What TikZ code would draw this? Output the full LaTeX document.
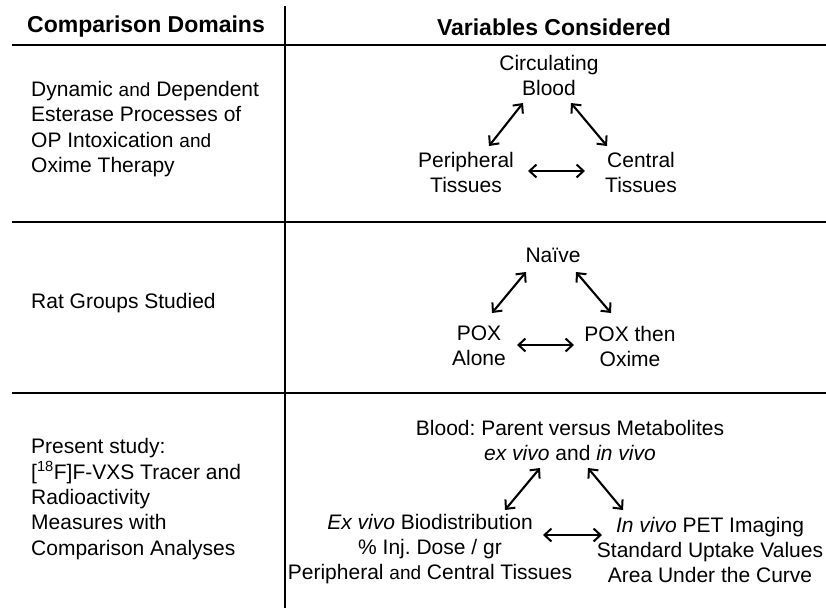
\documentclass[tikz,border=0pt]{standalone}
\usepackage{fontspec}
\setmainfont{Liberation Sans}
\usetikzlibrary{arrows.meta}
\newcommand{\smand}{{\fontsize{19}{25}\selectfont and}}
\begin{document}
\frenchspacing
\begin{tikzpicture}[x=1pt,y=-1pt,
  body/.style={font=\fontsize{21}{25}\selectfont\frenchspacing, inner sep=0pt, align=center},
  lefttext/.style={font=\fontsize{21}{25.3}\selectfont\frenchspacing, inner sep=0pt, align=left, anchor=west},
  header/.style={font=\fontsize{23}{27}\selectfont\bfseries, inner sep=0pt},
  rule/.style={line width=2.6pt, black},
  vrule/.style={line width=2pt, black},
  arr/.style={{Straight Barb[length=7pt,width=13pt,line width=2pt]}-{Straight Barb[length=7pt,width=13pt,line width=2pt]}, line width=2.1pt}
]
\useasboundingbox (0,0) rectangle (826,608);
\fill[white] (0,0) rectangle (826,608);

% table rules
\coordinate (vtop) at (285,6);
\coordinate (vbot) at (285,608);
\coordinate (h1l) at (12,45);  \coordinate (h1r) at (826,45);
\coordinate (h2l) at (12,222); \coordinate (h2r) at (826,222);
\coordinate (h3l) at (12,393); \coordinate (h3r) at (826,393);
\draw[vrule] (vtop) -- (vbot);
\draw[rule] (h1l) -- (h1r);
\draw[rule] (h2l) -- (h2r);
\draw[rule] (h3l) -- (h3r);

% headers
\node[header] (hleft) at (146,27) {Comparison Domains};
\node[header] (hright) at (554,27) {Variables Considered};

% left column
\node[lefttext] (d1) at (31,129) {Dynamic \smand{} Dependent\\Esterase Processes of\\OP Intoxication \smand\\Oxime Therapy};
\node[lefttext] (d2) at (31,303) {Rat Groups Studied};
\node[lefttext] (d3) at (31,499) {Present study:\\{[}\textsuperscript{18}F{]}F-VXS Tracer and\\Radioactivity\\Measures with\\Comparison Analyses};

% section 1
\node[body] (blood) at (549,75.5) {Circulating\\Blood};
\node[body] (periph) at (466,172.5) {Peripheral\\Tissues};
\node[body] (central) at (641,172.5) {Central\\Tissues};
\draw[arr] ([shift={(-26,27.5)}]blood.center) -- ([shift={(23,-26.5)}]periph.center);
\draw[arr] ([shift={(22,27.5)}]blood.center) -- ([shift={(-34,-26.5)}]central.center);
\draw[arr] ([shift={(62,-1.5)}]periph.center) -- ([shift={(-56,-1.5)}]central.center);

% section 2
\node[body] (naive) at (553,255) {Naïve};
\node[body] (pox) at (479,346) {POX\\Alone};
\node[body] (poxo) at (630,346) {POX then\\Oxime};
\draw[arr] ([shift={(-27,17)}]naive.center) -- ([shift={(13,-33)}]pox.center);
\draw[arr] ([shift={(23,17)}]naive.center) -- ([shift={(-19,-33)}]poxo.center);
\draw[arr] ([shift={(38,-1)}]pox.center) -- ([shift={(-56,-1)}]poxo.center);

% section 3
\node[body] (bl) at (570,440) {Blood: Parent versus Metabolites\\\textit{ex vivo} and \textit{in vivo}};
\node[body] (exv) at (430,549.5) {\textit{Ex vivo} Biodistribution\\\% Inj. Dose / gr\\Peripheral \smand{} Central Tissues};
\node[body] (inv) at (710,549.5) {\textit{In vivo} PET Imaging\\Standard Uptake Values\\Area Under the Curve};
\draw[arr] ([shift={(-30,28)}]bl.center) -- ([shift={(75,-39.5)}]exv.center);
\draw[arr] ([shift={(18,28)}]bl.center) -- ([shift={(-87,-39.5)}]inv.center);
\draw[arr] ([shift={(113,-14.5)}]exv.center) -- ([shift={(-108,-14.5)}]inv.center);
\end{tikzpicture}
\end{document}
